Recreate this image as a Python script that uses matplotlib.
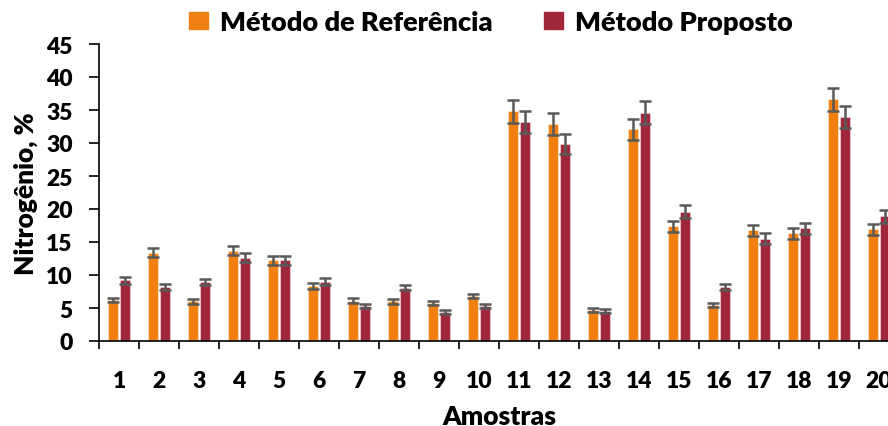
import matplotlib
matplotlib.use("Agg")
import matplotlib.pyplot as plt
import numpy as np

samples = [str(i) for i in range(1, 21)]
ref_vals = [6.2, 13.4, 6.0, 13.7, 12.2, 8.4, 6.1, 6.0, 5.7, 6.8,
            34.8, 32.9, 4.7, 32.1, 17.4, 5.4, 16.8, 16.3, 36.6, 16.9]
ref_err = [0.35, 0.7, 0.35, 0.7, 0.65, 0.45, 0.35, 0.35, 0.3, 0.35,
           1.75, 1.65, 0.3, 1.6, 0.85, 0.3, 0.85, 0.85, 1.8, 0.85]
prop_vals = [9.2, 8.2, 9.0, 12.6, 12.2, 9.0, 5.35, 8.1, 4.4, 5.3,
             33.2, 29.9, 4.5, 34.6, 19.6, 8.2, 15.5, 17.1, 33.9, 18.9]
prop_err = [0.5, 0.45, 0.45, 0.7, 0.65, 0.5, 0.3, 0.4, 0.25, 0.3,
            1.7, 1.5, 0.3, 1.75, 1.0, 0.45, 0.8, 0.85, 1.7, 0.95]
labels = ["Método de Referência", "Método Proposto"]
yticks = [0, 5, 10, 15, 20, 25, 30, 35, 40, 45]

plt.rcParams['font.family'] = ['Lato', 'DejaVu Sans']
WT = 'heavy'

W, H = 888, 427
fig = plt.figure(figsize=(W / 100, H / 100), dpi=100)
ax = fig.add_axes([99 / W, 1 - 342 / H, 800 / W, (342 - 45) / H])

x = np.arange(len(samples))
bw = 0.25
off = 0.14
c_ref = '#F08110'
c_prop = '#A1283A'
ecol = '#595959'
ax.bar(x - off, ref_vals, bw, color=c_ref, edgecolor=(1, 1, 1, 0.5), linewidth=0.6,
       yerr=ref_err, error_kw=dict(ecolor=ecol, elinewidth=1.8, capsize=4.5, capthick=1.8),
       label=labels[0], zorder=2)
ax.bar(x + off, prop_vals, bw, color=c_prop, edgecolor=(1, 1, 1, 0.5), linewidth=0.6,
       yerr=prop_err, error_kw=dict(ecolor=ecol, elinewidth=1.8, capsize=4.5, capthick=1.8),
       label=labels[1], zorder=2)

ax.set_xlim(-0.5, len(samples) - 0.5)
ax.set_ylim(0, 45)
ax.set_yticks(yticks)
ax.set_yticklabels([str(v) for v in yticks])
ax.set_xticks(x)
ax.set_xticklabels(samples)
ax.set_xticks(np.arange(-0.5, len(samples), 1), minor=True)
ax.tick_params(axis='x', which='major', length=0, pad=21, labelsize=16.5)
ax.tick_params(axis='x', which='minor', length=6, width=1.2, direction='out')
ax.tick_params(axis='y', which='major', length=7, width=1.2, direction='out', pad=12, labelsize=16.5)
for lab in ax.get_xticklabels() + ax.get_yticklabels():
    lab.set_fontweight(WT)

for s in ['top', 'right']:
    ax.spines[s].set_visible(False)
for s in ['left', 'bottom']:
    ax.spines[s].set_linewidth(1.2)

ax.set_ylabel('Nitrogênio, %', fontsize=19, fontweight=WT, labelpad=6)
ax.set_xlabel('Amostras', fontsize=19, fontweight=WT, labelpad=9)

handles = [plt.Rectangle((0, 0), 1, 1, color=c) for c in (c_ref, c_prop)]
fig.legend(handles, labels, loc='center', bbox_to_anchor=(491 / W, 1 - 23 / H),
           ncol=2, frameon=False, handlelength=0.7, handleheight=0.55,
           handletextpad=0.45, columnspacing=1.9, prop=dict(weight=WT, size=19.5))

fig.savefig('out.png', dpi=100)
